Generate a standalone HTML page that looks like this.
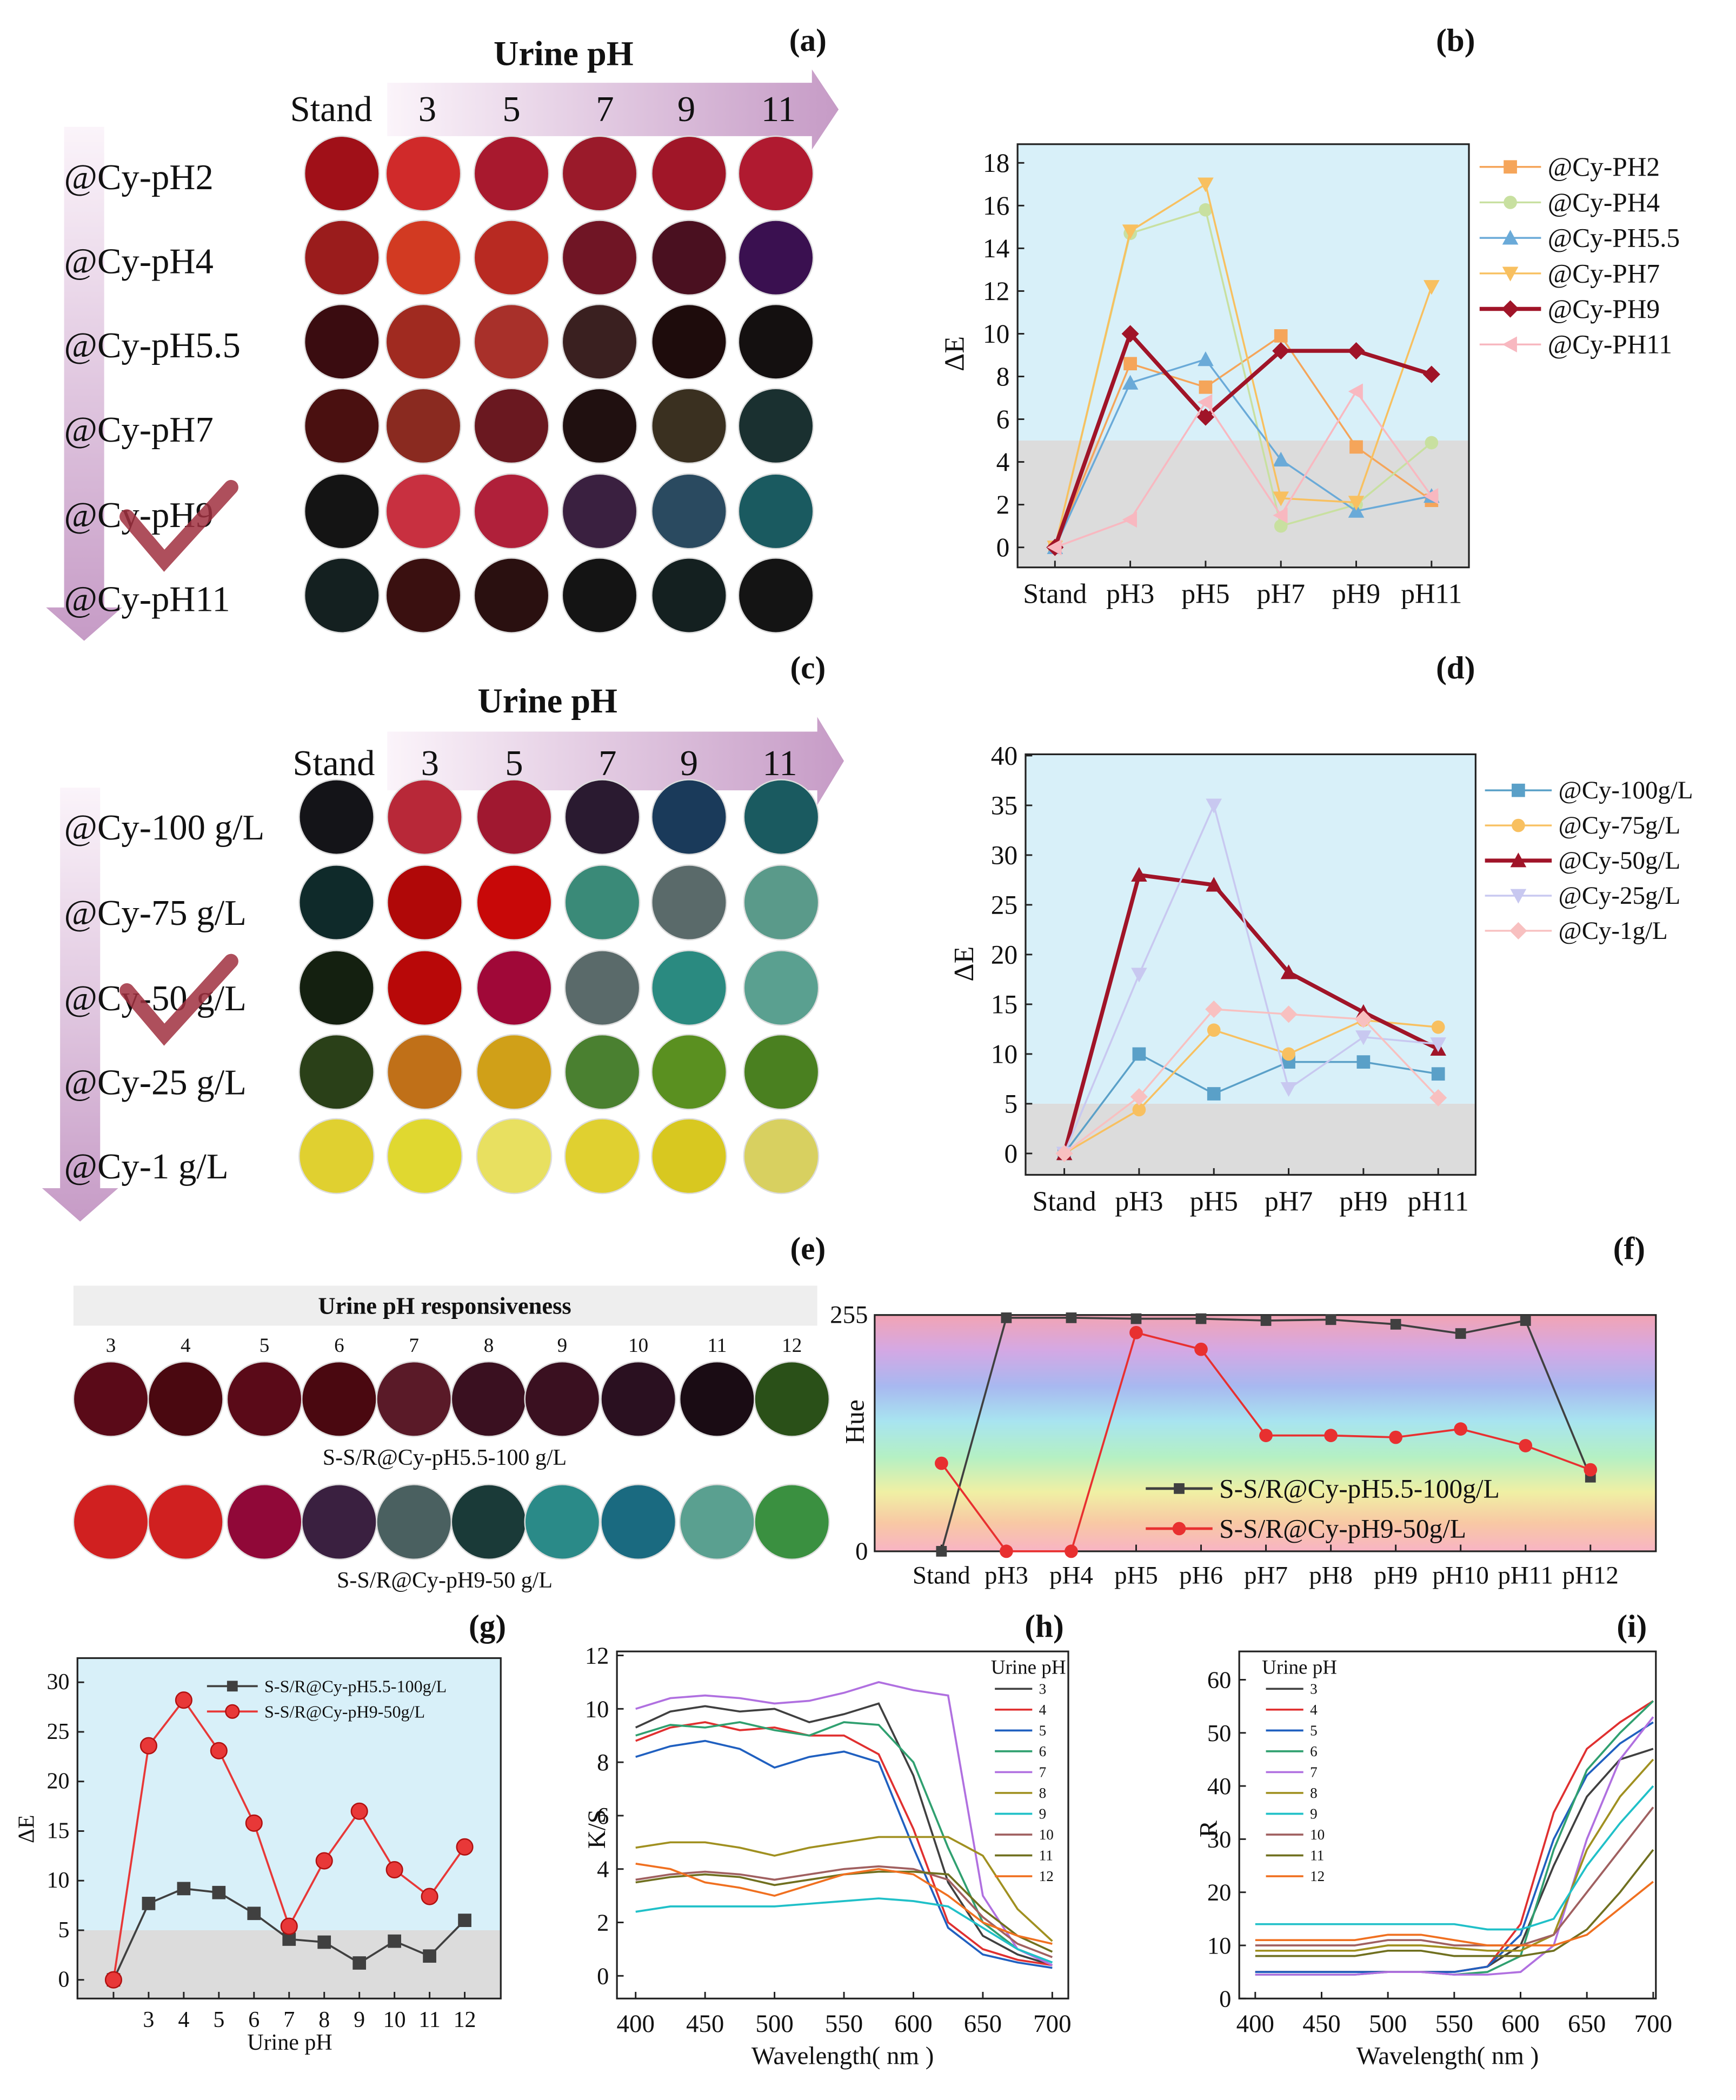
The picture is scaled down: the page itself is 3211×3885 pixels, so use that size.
<!DOCTYPE html>
<html><head><meta charset="utf-8">
<style>
html,body{margin:0;padding:0;background:#fff;}
svg{display:block;}
text{font-family:"Liberation Serif",serif;fill:#111;}
</style></head>
<body>
<svg id="fig" xmlns="http://www.w3.org/2000/svg" width="3211" height="3885" viewBox="0 0 1300 1573" preserveAspectRatio="none">
<defs>
<linearGradient id="hgrad" x1="0" y1="0" x2="1" y2="0"><stop offset="0" stop-color="#fbf4fa"/><stop offset="1" stop-color="#c69bc6"/></linearGradient>
<linearGradient id="vgrad" x1="0" y1="0" x2="0" y2="1"><stop offset="0" stop-color="#fbf4fa"/><stop offset="1" stop-color="#c69bc6"/></linearGradient>
<linearGradient id="rainbow" x1="0" y1="0" x2="0" y2="1">
<stop offset="0" stop-color="#f2a4b4"/><stop offset="0.15" stop-color="#d4a8e4"/><stop offset="0.3" stop-color="#a8b8f0"/><stop offset="0.45" stop-color="#a8e4f0"/><stop offset="0.6" stop-color="#b4f0c4"/><stop offset="0.75" stop-color="#f0f0a4"/><stop offset="0.88" stop-color="#f8c8a4"/><stop offset="1" stop-color="#f8b4c4"/>
</linearGradient>
</defs>
</svg>
<script>
// ---------- data ----------
const aCols = ["Stand","3","5","7","9","11"];
const aRows = ["@Cy-pH2","@Cy-pH4","@Cy-pH5.5","@Cy-pH7","@Cy-pH9","@Cy-pH11"];
const aColors = [
 ["#a01018","#d02a2a","#a8192e","#9a1a2a","#a01628","#b01a30"],
 ["#9a1c1c","#d23a22","#b82a22","#701525","#4a1020","#3a1050"],
 ["#3a0c10","#a02a20","#a8302a","#3a2020","#1e0c0c","#141010"],
 ["#4a1010","#8a2a20","#6a1820","#201010","#3a3020","#1a3030"],
 ["#141414","#c83040","#b0203a","#3a2040","#2a4a60","#1a5a60"],
 ["#142020","#3a1010","#2a1010","#141414","#142020","#141414"]];
const cRows = ["@Cy-100 g/L","@Cy-75 g/L","@Cy-50 g/L","@Cy-25 g/L","@Cy-1 g/L"];
const cColors = [
 ["#141418","#b82838","#a01830","#2a1a30","#1a3a5a","#1a5a60"],
 ["#0f2a2a","#b00808","#c80808","#3a8a78","#5a6a6a","#5a9a8a"],
 ["#142010","#b80808","#a00838","#5a6a6a","#2a8a80","#5aa090"],
 ["#2a4018","#c07018","#d0a018","#4a8030","#5a9020","#4a8020"],
 ["#e0d030","#e0d830","#e8e060","#e0d030","#d8c820","#d8d060"]];
const eNums = ["3","4","5","6","7","8","9","10","11","12"];
const eRow1 = ["#5a0a18","#4a0810","#5a0a18","#4a0810","#5a1a28","#3a1020","#3a1020","#2a1020","#1a0c14","#2a5018"];
const eRow2 = ["#d02020","#d02020","#900838","#3a2040","#4a6060","#1a3a38","#2a8a88","#1a6a80","#5aa090","#3a9040"];

const bCats = ["Stand","pH3","pH5","pH7","pH9","pH11"];
const bTicks = [0,2,4,6,8,10,12,14,16,18];
const bNames = ["@Cy-PH2","@Cy-PH4","@Cy-PH5.5","@Cy-PH7","@Cy-PH9","@Cy-PH11"];
const bPH2 = [0,8.6,7.5,9.9,4.7,2.2];
const bPH4 = [0,14.7,15.8,1.0,2.0,4.9];
const bPH55 = [0,7.7,8.8,4.1,1.7,2.4];
const bPH7 = [0,14.8,17.0,2.3,2.1,12.2];
const bPH9 = [0,10.0,6.1,9.2,9.2,8.1];
const bPH11 = [0,1.3,6.8,1.5,7.3,2.4];

const dCats = ["Stand","pH3","pH5","pH7","pH9","pH11"];
const dTicks = [0,5,10,15,20,25,30,35,40];
const dNames = ["@Cy-100g/L","@Cy-75g/L","@Cy-50g/L","@Cy-25g/L","@Cy-1g/L"];
const d100 = [0,10,6,9.2,9.2,8];
const d75 = [0,4.4,12.4,10,13.4,12.7];
const d50 = [0,28,27,18.2,14.2,10.5];
const d25 = [0,18,35,6.5,11.7,11];
const d1 = [0,5.7,14.5,14,13.5,5.6];

const fCats = ["Stand","pH3","pH4","pH5","pH6","pH7","pH8","pH9","pH10","pH11","pH12"];
const fNames = ["S-S/R@Cy-pH5.5-100g/L","S-S/R@Cy-pH9-50g/L"];
const fS1 = [0,252,252,251,251,249,250,245,235,249,80];
const fS2 = [95,0,0,236,218,125,125,123,132,114,88];

const gCats = ["","3","4","5","6","7","8","9","10","11","12"];
const gTicks = [0,5,10,15,20,25,30];
const gNames = ["S-S/R@Cy-pH5.5-100g/L","S-S/R@Cy-pH9-50g/L"];
const gS1 = [0,7.7,9.2,8.8,6.7,4.1,3.8,1.7,3.9,2.4,6.0];
const gS2 = [0,23.6,28.2,23.1,15.8,5.4,12,17,11.1,8.4,13.4];

const wl = [400,425,450,475,500,525,550,575,600,625,650,675,700];
const wlTicks = [400,450,500,550,600,650,700];
const hTicks = [0,2,4,6,8,10,12];
const specNames = ["3","4","5","6","7","8","9","10","11","12"];
const hK3 = [9.3,9.9,10.1,9.9,10.0,9.5,9.8,10.2,7.5,3.5,1.5,0.8,0.4];
const hK4 = [8.8,9.3,9.5,9.2,9.3,9.0,9.0,8.3,5.5,2.0,1.0,0.6,0.4];
const hK5 = [8.2,8.6,8.8,8.5,7.8,8.2,8.4,8.0,4.8,1.8,0.8,0.5,0.3];
const hK6 = [9.0,9.4,9.3,9.5,9.2,9.0,9.5,9.4,8.0,4.8,2.0,1.0,0.5];
const hK7 = [10.0,10.4,10.5,10.4,10.2,10.3,10.6,11.0,10.7,10.5,3.0,1.0,0.4];
const hK8 = [4.8,5.0,5.0,4.8,4.5,4.8,5.0,5.2,5.2,5.2,4.5,2.5,1.3];
const hK9 = [2.4,2.6,2.6,2.6,2.6,2.7,2.8,2.9,2.8,2.6,1.8,1.0,0.5];
const hK10 = [3.6,3.8,3.9,3.8,3.6,3.8,4.0,4.1,4.0,3.6,2.2,1.2,0.7];
const hK11 = [3.5,3.7,3.8,3.7,3.4,3.6,3.8,3.9,3.9,3.8,2.5,1.5,0.9];
const hK12 = [4.2,4.0,3.5,3.3,3.0,3.4,3.8,4.0,3.8,3.0,2.0,1.5,1.2];
const iTicks = [0,10,20,30,40,50,60];
const iR3 = [5,5,5,5,5,5,5,6,10,25,38,45,47];
const iR4 = [5,5,5,5,5,5,5,6,14,35,47,52,56];
const iR5 = [5,5,5,5,5,5,5,6,12,30,42,48,52];
const iR6 = [4.5,4.5,4.5,4.5,5,5,4.5,5,8,28,43,50,56];
const iR7 = [4.5,4.5,4.5,4.5,5,5,4.5,4.5,5,10,30,45,53];
const iR8 = [9,9,9,9,10,10,9.5,9,9,12,28,38,45];
const iR9 = [14,14,14,14,14,14,14,13,13,15,25,33,40];
const iR10 = [10,10,10,10,11,11,10,10,10,12,20,28,36];
const iR11 = [8,8,8,8,9,9,8,8,8,9,13,20,28];
const iR12 = [11,11,11,11,12,12,11,10,10,10,12,17,22];
const specColors = ["#404040","#e03030","#2060c0","#30a070","#b070e0","#a09020","#20c0c8","#a06060","#707020","#f07020"];

// ---------- helpers ----------
const svg = document.getElementById('fig');
const NS = "http://www.w3.org/2000/svg";
function mk(tag, attrs, parent){
  const e = document.createElementNS(NS, tag);
  for (const k in attrs) e.setAttribute(k, attrs[k]);
  (parent||svg).appendChild(e);
  return e;
}
function txt(x,y,s,size,opts){
  opts = opts||{};
  const t = mk('text',{x:x,y:y,'font-size':size,'text-anchor':opts.anchor||'middle','dominant-baseline':'central','font-weight':opts.bold?'bold':'normal'});
  if (opts.rot) t.setAttribute('transform','rotate(-90 '+x+' '+y+')');
  t.textContent = s;
  return t;
}
function marker(shape,x,y,r,color,parent){
  let e;
  if (shape==='square') e = mk('rect',{x:x-r,y:y-r,width:2*r,height:2*r,fill:color},parent);
  else if (shape==='circle') e = mk('circle',{cx:x,cy:y,r:r,fill:color},parent);
  else if (shape==='ball') e = mk('circle',{cx:x,cy:y,r:r,fill:color,stroke:'#b01010','stroke-width':1},parent);
  else if (shape==='tri') e = mk('polygon',{points:(x)+','+(y-r*1.2)+' '+(x-r*1.2)+','+(y+r)+' '+(x+r*1.2)+','+(y+r),fill:color},parent);
  else if (shape==='dtri') e = mk('polygon',{points:(x)+','+(y+r*1.2)+' '+(x-r*1.2)+','+(y-r)+' '+(x+r*1.2)+','+(y-r),fill:color},parent);
  else if (shape==='diamond') e = mk('polygon',{points:x+','+(y-r*1.3)+' '+(x+r*1.3)+','+y+' '+x+','+(y+r*1.3)+' '+(x-r*1.3)+','+y,fill:color},parent);
  else e = mk('polygon',{points:(x-r*1.2)+','+y+' '+(x+r)+','+(y-r*1.2)+' '+(x+r)+','+(y+r*1.2),fill:color},parent);
  return e;
}
function series(vals,fx,fy,color,width,shape,r,name){
  const g = mk('g',{});
  
  
  const pts = vals.map((v,i)=>fx(i)+','+fy(v)).join(' ');
  const pl = mk('polyline',{points:pts,fill:'none',stroke:color,'stroke-width':width},g);
  
  
  if (shape) vals.forEach((v,i)=>{
    const m = marker(shape,fx(i),fy(v),r,color,g);
    
    
  });
  return g;
}
function arrowH(x0,x1,y0,y1,tip){
  const cy=(y0+y1)/2, h=(y1-y0);
  const p = mk('polygon',{points:x0+','+y0+' '+x1+','+y0+' '+x1+','+(y0-h*0.25)+' '+tip+','+cy+' '+x1+','+(y1+h*0.25)+' '+x1+','+y1+' '+x0+','+y1,fill:'url(#hgrad)'});
  
  
}
function arrowV(x0,x1,y0,y1,tip){
  const cx=(x0+x1)/2, w=(x1-x0);
  const p = mk('polygon',{points:x0+','+y0+' '+x1+','+y0+' '+x1+','+y1+' '+(x1+w*0.45)+','+y1+' '+cx+','+tip+' '+(x0-w*0.45)+','+y1+' '+x0+','+y1,fill:'url(#vgrad)'});
  
  
}
function check(x,y){
  const p = mk('path',{d:'M'+x+','+(y+22)+' L'+(x+28)+','+(y+55)+' L'+(x+78)+','+y,fill:'none',stroke:'#a03040','stroke-width':11,'stroke-linecap':'round','opacity':0.85});
  
  
}
function swatch(cx,cy,r,color){
  const c = mk('circle',{cx:cx,cy:cy,r:r,fill:color,stroke:'#ddd','stroke-width':1});
  
  
}

// ---------- panel a ----------
arrowH(290,608,62,102,628);
arrowV(48,78,95,455,480);
let t;
t = txt(422,40,"Urine pH",26,{bold:true});  
t = txt(605,30,"(a)",24,{bold:true});  
const aX = [256,317,383,449,516,581], aLX=[248,320,383,453,514,583];
const aY = [130,193,256,319,383,446];
aCols.forEach((c,i)=>{ t = txt(aLX[i],82,c,27);   });
aRows.forEach((r,j)=>{ t = txt(48,aY[j]+3,r,27,{anchor:'start'});  
  aColors[j].forEach((col,i)=>swatch(aX[i],aY[j],28,col)); });
check(95,365);

// ---------- panel c ----------
arrowH(290,612,548,592,632);
arrowV(45,75,590,890,915);
t = txt(410,525,"Urine pH",26,{bold:true});  
t = txt(605,500,"(c)",24,{bold:true});  
const cX=[252,318,385,451,516,585], cLX=[250,322,385,455,516,584], cY=[612,676,740,803,866];
aCols.forEach((c,i)=>{ t = txt(cLX[i],572,c,27);   });
cRows.forEach((r,j)=>{ t = txt(48,cY[j]+8,r,27,{anchor:'start'});  
  cColors[j].forEach((col,i)=>swatch(cX[i],cY[j],28,col)); });
check(95,720);

// ---------- line chart frame helper ----------
function frame(x0,y0,x1,y1,name){
  const r = mk('rect',{x:x0,y:y0,width:x1-x0,height:y1-y0,fill:'none',stroke:'#222','stroke-width':1.3});
  
  
}
function bands(x0,y0,x1,y1,ySplit){
  const a = mk('rect',{x:x0,y:y0,width:x1-x0,height:ySplit-y0,fill:'#d8f0f9'});
  
  
  const b = mk('rect',{x:x0,y:ySplit,width:x1-x0,height:y1-ySplit,fill:'#dcdcdc'});
  
  
}
function yTicks(ticks,fy,x0,size,lab){
  ticks.forEach(v=>{
    const l = mk('line',{x1:x0,x2:x0+5,y1:fy(v),y2:fy(v),stroke:'#222','stroke-width':1.2});
    
    
    const tt = txt(x0-6,fy(v),String(v),size,{anchor:'end'});
    
    
  });
}
function xTicks(labels,fx,y1,size,ly){
  labels.forEach((s,i)=>{
    const l = mk('line',{x1:fx(i),x2:fx(i),y1:y1,y2:y1-5,stroke:'#222','stroke-width':1.2});
    
    
    const tt = txt(fx(i),ly,s,size);
    
    
  });
}
function legendEntry(x,y,len,color,width,shape,r,label,size){
  const g = mk('g',{});
  
  
  mk('line',{x1:x,x2:x+len,y1:y,y2:y,stroke:color,'stroke-width':width},g);
  if (shape) marker(shape,x+len/2,y,r,color,g);
  const tt = txt(x+len+5,y,label,size,{anchor:'start'});
  g.appendChild(tt);
}

// ---------- panel b ----------
{
  const X0=762,X1=1100,Y0=108,Y1=425;
  const fy = v=> 410 - v*(410-122)/18;
  const fx = i=> 790 + i*56.4;
  bands(X0,Y0,X1,Y1,fy(5));
  frame(X0,Y0,X1,Y1,'panel-b-plot-area');
  yTicks(bTicks,fy,X0,20);
  xTicks(bCats,fx,Y1,21,445);
  t = txt(715,265,"ΔE",21,{rot:true});  
  t = txt(1090,30,"(b)",24,{bold:true});  
  const sets=[bPH2,bPH4,bPH55,bPH7,bPH9,bPH11];
  const cols=["#f5a55a","#c8e0a0","#6aaad8","#f8c060","#a01428","#f8b8c0"];
  const shp=["square","circle","tri","dtri","diamond","ltri"];
  sets.forEach((s,k)=>series(s,fx,fy,cols[k],k===4?3:1.4,shp[k],5,'series-'+bNames[k]));
  bNames.forEach((n,k)=>legendEntry(1108,125+k*26.6,46,cols[k],k===4?3:1.4,shp[k],5,n,20));
}

// ---------- panel d ----------
{
  const X0=768,X1=1105,Y0=565,Y1=880;
  const fy = v=> 864 - v*(864-566)/40;
  const fx = i=> 797 + i*56;
  bands(X0,Y0,X1,Y1,fy(5));
  frame(X0,Y0,X1,Y1,'panel-d-plot-area');
  yTicks(dTicks,fy,X0,20);
  xTicks(dCats,fx,Y1,21,900);
  t = txt(722,722,"ΔE",21,{rot:true});  
  t = txt(1090,500,"(d)",24,{bold:true});  
  const sets=[d100,d75,d50,d25,d1];
  const cols=["#5aa0c8","#f8c060","#a01428","#c8c8f0","#f8c0c0"];
  const shp=["square","circle","tri","dtri","diamond"];
  sets.forEach((s,k)=>series(s,fx,fy,cols[k],k===2?3:1.4,shp[k],5,'series-'+dNames[k]));
  dNames.forEach((n,k)=>legendEntry(1112,592+k*26.3,50,cols[k],k===2?3:1.4,shp[k],5,n,19));
}

// ---------- panel e ----------
{
  t = txt(605,935,"(e)",24,{bold:true});  
  const band = mk('rect',{x:55,y:963,width:557,height:30,fill:'#eeeeee'});
  
  
  t = txt(333,978,"Urine pH responsiveness",18,{bold:true});  
  const ex=[83,139,198,254,310,366,421,478,537,593];
  eNums.forEach((n,i)=>{ t = txt(ex[i],1008,n,15);  
    swatch(ex[i],1048,28,eRow1[i]); swatch(ex[i],1140,28,eRow2[i]); });
  t = txt(333,1092,"S-S/R@Cy-pH5.5-100 g/L",17);  
  t = txt(333,1184,"S-S/R@Cy-pH9-50 g/L",17);  
}

// ---------- panel f ----------
{
  const X0=655,X1=1240,Y0=985,Y1=1162;
  const fy = v=> 1162 - v*(1162-985)/255;
  const fx = i=> 705 + i*48.6;
  const bg = mk('rect',{x:X0,y:Y0,width:X1-X0,height:Y1-Y0,fill:'url(#rainbow)'});
  
  
  frame(X0,Y0,X1,Y1,'panel-f-plot-area');
  t = txt(650,985,"255",19,{anchor:'end'});  
  t = txt(650,1162,"0",19,{anchor:'end'});  
  t = txt(640,1065,"Hue",20,{rot:true});  
  xTicks(fCats,fx,Y1,19,1180);
  t = txt(1220,935,"(f)",24,{bold:true});  
  series(fS1,fx,fy,"#404040",1.5,"square",4,'series-pH5.5-100');
  series(fS2,fx,fy,"#e83030",1.5,"circle",5,'series-pH9-50');
  legendEntry(858,1115,50,"#404040",2,"square",4,fNames[0],20);
  legendEntry(858,1145,50,"#e83030",2,"circle",5,fNames[1],20);
}

// ---------- panel g ----------
{
  const X0=58,X1=375,Y0=1242,Y1=1497;
  const fy = v=> 1483 - v*7.43;
  const fx = i=> 85 + i*26.3;
  bands(X0,Y0,X1,Y1,fy(5));
  frame(X0,Y0,X1,Y1,'panel-g-plot-area');
  yTicks(gTicks,fy,X0,17);
  xTicks(gCats,fx,Y1,17,1513);
  t = txt(217,1530,"Urine pH",17);  
  t = txt(20,1370,"ΔE",17,{rot:true});  
  t = txt(365,1218,"(g)",24,{bold:true});  
  series(gS1,fx,fy,"#404040",1.5,"square",5,'series-pH5.5-100');
  series(gS2,fx,fy,"#e83838",1.5,"ball",6,'series-pH9-50');
  legendEntry(155,1263,38,"#404040",1.5,"square",4,gNames[0],13);
  legendEntry(155,1282,38,"#e83838",1.5,"ball",5,gNames[1],13);
}

// ---------- panels h, i ----------
function spectra(X0,Y0,X1,Y1,fx,fy,ticksY,sets,lab,ylab,ylx,legX){
  frame(X0,Y0,X1,Y1,'panel-'+lab+'-plot-area');
  yTicks(ticksY,fy,X0,18);
  wlTicks.forEach(w=>{
    const l = mk('line',{x1:fx(w),x2:fx(w),y1:Y1,y2:Y1-5,stroke:'#222','stroke-width':1.2});
    
    
    const tt = txt(fx(w),1516,String(w),19);
    
    
  });
  t = txt((X0+X1)/2,1540,"Wavelength( nm )",19);  
  t = txt(ylx,1370,ylab,19,{rot:true});  
  t = txt(X1-18,1218,"("+lab+")",24,{bold:true});  
  sets.forEach((s,k)=>series(s,i=>fx(wl[i]),fy,specColors[k],1.5,null,0,'spectrum-pH'+specNames[k]));
  t = txt(legX-3,1249,"Urine pH",15,{anchor:'start'});  
  specNames.forEach((n,k)=>legendEntry(legX,1265+k*15.6,28,specColors[k],1.5,null,0,n,11));
}
spectra(462,1237,800,1497,w=>476+(w-400)*(788-476)/300,v=>1480-v*20,hTicks,
  [hK3,hK4,hK5,hK6,hK7,hK8,hK9,hK10,hK11,hK12],'h',"K/S",447,745);
spectra(928,1237,1240,1497,w=>940+(w-400)*(1238-940)/300,v=>1497-v*3.98,iTicks,
  [iR3,iR4,iR5,iR6,iR7,iR8,iR9,iR10,iR11,iR12],'i',"R",905,948);
</script>
</body></html>
